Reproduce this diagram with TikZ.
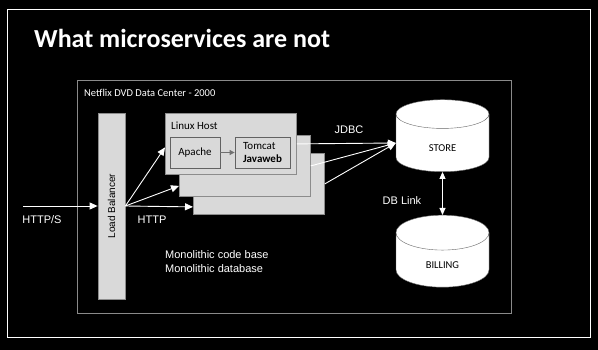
\documentclass[tikz,border=0pt]{standalone}
\usepackage{fontspec}
\setmainfont{Carlito}
\newfontfamily\arialfont{Liberation Sans}
\usetikzlibrary{positioning,shapes.geometric,arrows.meta}
\definecolor{hostgray}{HTML}{D9D9D9}
\definecolor{hostedge}{HTML}{8C8C8C}
\definecolor{framegray}{HTML}{8A8A8A}
\newcommand{\dbtext}[1]{\raisebox{-9pt}[0pt][0pt]{#1}}
\tikzset{
  host/.style={draw=hostedge, fill=hostgray, line width=0.8pt, minimum width=131pt, minimum height=61pt, inner sep=0pt},
  inbox/.style={draw=hostedge!70!black, line width=0.8pt, minimum height=31pt, inner sep=0pt, font=\fontsize{11}{13}\selectfont},
  db/.style={cylinder, shape border rotate=90, aspect=1.05, draw=black!60, fill=white, minimum width=93pt, minimum height=72pt, inner sep=0pt, font=\fontsize{10.5}{12}\selectfont},
  arr/.style={white, line width=0.9pt, -{Triangle[length=8pt,width=7pt]}},
  lbl/.style={white, inner sep=0pt, font=\arialfont\fontsize{11}{14}\selectfont},
}
\begin{document}
\begin{tikzpicture}[x=1pt,y=-1pt]
    % Hintergrund und Rahmen
    \fill[black] (0,0) rectangle (598,350);
    \useasboundingbox (0,0) rectangle (598,350);
    \draw[white, line width=1pt] (7,10) rectangle (590,337);
    \node[anchor=base west, white, inner sep=0pt, font=\bfseries\fontsize{26}{31}\selectfont] (title) at (34,48) {What microservices are not};
    % Rechenzentrum
    \draw[framegray, line width=0.8pt] (77,80) rectangle (511,313);
    \node[anchor=base west, white, inner sep=0pt, font=\fontsize{10.5}{12}\selectfont] (dc) at (84,97) {Netflix DVD Data Center - 2000};
    % Load Balancer
    \node[draw=hostedge, fill=hostgray, line width=0.8pt, rotate=90, minimum width=186pt, minimum height=27pt, inner sep=0pt, font=\arialfont\fontsize{10}{12}\selectfont] (lb) at (111.5,206) {Load Balancer};
    % Hosts (hinten nach vorne)
    \node[host, anchor=north west] (host3) at (193,153) {};
    \node[host, anchor=north west] (host2) at (179,135) {};
    \node[host, anchor=north west] (host1) at (165,113) {};
    \node[anchor=base west, inner sep=0pt, font=\fontsize{11}{13}\selectfont] (linux) at (171,130) {Linux Host};
    \node[inbox, minimum width=50pt] (apache) at (195,152.5) {Apache};
    \node[inbox, minimum width=55pt, align=left] (tomcat) at (262.5,152.5) {Tomcat\\\textbf{Javaweb}};
    \draw[hostedge!80!black, line width=1pt, -{Triangle[length=5pt,width=5pt]}] (apache) -- (tomcat);
    % Datenbanken
    \node[db] (store) at (442.5,143) {\dbtext{STORE}};
    \node[db] (billing) at (442.5,260) {\dbtext{BILLING}};
    % Verbindungen
    \coordinate (client) at (23,206);
    \draw[arr] (client) -- (lb.north);
    \draw[arr] (lb.south) -- ([yshift=-3.5pt]host1.west);
    \draw[arr] (lb.south) -- ([yshift=-20pt]host2.west);
    \draw[arr] (lb.south) -- ([yshift=-23pt]host3.west);
    \draw[arr] (host3.east) -- (store.west);
    \draw[arr] (host2.east) -- (store.west);
    \draw[arr] (host1.east) -- (store.west);
    \draw[white, line width=0.9pt, {Triangle[length=7pt,width=6pt]}-{Triangle[length=7pt,width=6pt]}] (store.south) -- (billing.north);
    % Beschriftungen
    \node[lbl] (https) at (42,220) {HTTP/S};
    \node[lbl] (http) at (152,220) {HTTP};
    \node[lbl] (jdbc) at (349,130) {JDBC};
    \node[lbl] (dblink) at (402,201) {DB Link};
    \node[lbl, anchor=north west, align=left] (mono) at (165,250) {Monolithic code base\\Monolithic database};
\end{tikzpicture}
\end{document}
